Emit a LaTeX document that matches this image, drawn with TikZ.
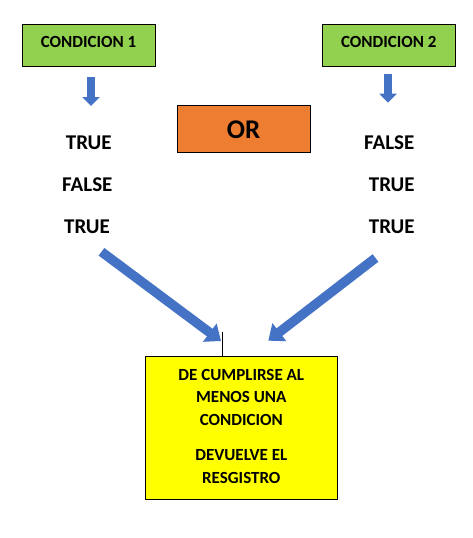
\documentclass[tikz,border=0pt]{standalone}
\usepackage{fontspec}
\setmainfont{Carlito}
\usetikzlibrary{arrows.meta}
\definecolor{condgreen}{HTML}{92D050}
\definecolor{orbox}{HTML}{ED7D31}
\definecolor{arrowblue}{HTML}{4472C4}
\definecolor{resyellow}{HTML}{FFFF00}
\tikzset{
    box/.style={draw, line width=0.9pt, inner sep=0pt},
    boxtext/.style={anchor=base, inner sep=0pt, font=\bfseries\fontsize{17}{22.4}\selectfont},
    word/.style={anchor=base, inner sep=0pt, font=\bfseries\fontsize{21}{25}\selectfont},
    bigarrow/.style={line width=9.5pt, draw=arrowblue, -{Triangle[width=22pt, length=14pt]}},
    smallarrow/.style={line width=7.5pt, draw=arrowblue, -{Triangle[width=17pt, length=9pt]}}
}

\begin{document}
\begin{tikzpicture}[x=1pt, y=-1pt]
            \useasboundingbox (0, 0) rectangle (472, 538);

            \node[box, fill=condgreen, minimum width=133pt, minimum height=42pt] (c1) at (88.5, 45) {};
            \node[box, fill=condgreen, minimum width=133pt, minimum height=42pt] (c2) at (388.8, 45) {};
            \node[box, fill=orbox, minimum width=133pt, minimum height=47pt] (or) at (244, 129) {};
            \node[box, fill=resyellow, minimum width=192pt, minimum height=143pt] (res) at (241.3, 427.7) {};

            \node[boxtext] (c1t) at (88.5, 47.3) {CONDICION 1};
            \node[boxtext] (c2t) at (388.8, 47.3) {CONDICION 2};
            \node[word, font=\bfseries\fontsize{27}{30}\selectfont] (ort) at (243.7, 138.3) {OR};

            \node[word] (l1) at (88.8, 149) {TRUE};
            \node[word] (l2) at (87.3, 191.7) {FALSE};
            \node[word] (l3) at (87, 233) {TRUE};
            \node[word] (r1) at (389.2, 149.3) {FALSE};
            \node[word] (r2) at (391.7, 191) {TRUE};
            \node[word] (r3) at (391.7, 233.3) {TRUE};

            \node[boxtext, align=center] (rest) at (241.3, 483.3) {DE CUMPLIRSE AL\\MENOS UNA\\CONDICION\\[13.5pt]DEVUELVE EL\\RESGISTRO};

            \coordinate (a1s) at (91, 77.3);
            \coordinate (a1e) at (91, 106);
            \coordinate (a2s) at (388, 74);
            \coordinate (a2e) at (388, 102.7);
            \coordinate (b1s) at (101.5, 251.8);
            \coordinate (b1e) at (221, 341);
            \coordinate (b2s) at (375.5, 258);
            \coordinate (b2e) at (268.3, 340.7);
            \coordinate (tick) at (222.7, 332);

            \draw[smallarrow] (a1s) -- (a1e);
            \draw[smallarrow] (a2s) -- (a2e);
            \draw[bigarrow] (b1s) -- (b1e);
            \draw[bigarrow] (b2s) -- (b2e);
            \draw[line width=0.8pt] (tick) -- (tick |- res.north);
        \end{tikzpicture}
\end{document}
